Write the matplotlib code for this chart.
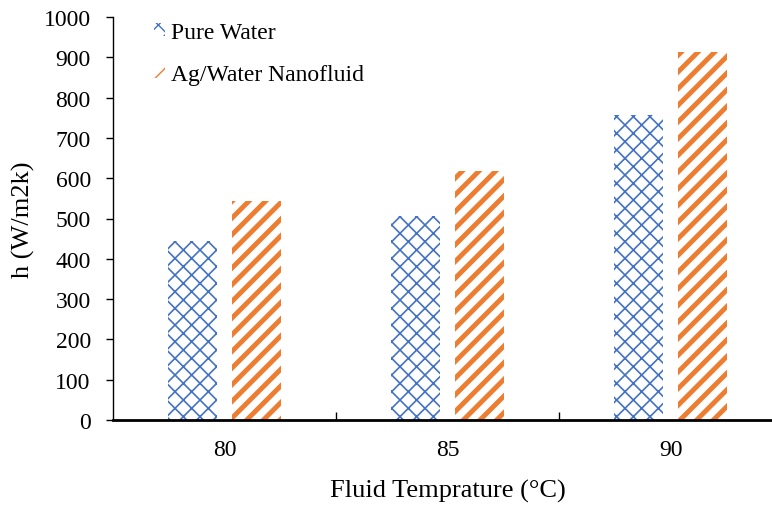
import matplotlib
matplotlib.use("Agg")
import matplotlib.pyplot as plt
import numpy as np

# data
temps = ["80", "85", "90"]
pure_water = [444, 507, 757]
ag_water = [543, 618, 912]

plt.rcParams['font.family'] = ['Liberation Serif', 'DejaVu Serif']
plt.rcParams['font.size'] = 17

fig = plt.figure(figsize=(7.72, 5.06), dpi=100)
ax = fig.add_axes([113 / 772, 1 - 421 / 506, 669 / 772, 403 / 506])

x = np.arange(len(temps))
w = 0.22
off = 0.143

with plt.rc_context({'hatch.linewidth': 1.2}):
    b1 = ax.bar(x - off, pure_water, w, color='white', edgecolor='#4472C4',
                hatch='xx', linewidth=0, label='Pure Water')
with plt.rc_context({'hatch.linewidth': 3.5}):
    b2 = ax.bar(x + off, ag_water, w, color='white', edgecolor='#ED7D31',
                hatch='//', linewidth=0, label='Ag/Water Nanofluid')

ax.set_xlim(-0.5, 2.5)
ax.set_ylim(0, 1000)
ax.set_yticks(np.arange(0, 1001, 100))
ax.set_xticks(x)
ax.set_xticklabels(temps)
ax.set_xticks([0.5, 1.5], minor=True)
ax.tick_params(axis='x', which='major', length=0, pad=14)
ax.tick_params(axis='x', which='minor', direction='in', length=6, width=1)
ax.tick_params(axis='y', direction='out', length=5, width=1, pad=11)

for s in ['top', 'right']:
    ax.spines[s].set_visible(False)
ax.spines['bottom'].set_linewidth(2)
ax.spines['left'].set_linewidth(1)

ax.set_ylabel('h (W/m2k)', fontsize=19, labelpad=6)
ax.set_xlabel('Fluid Temprature (°C)', fontsize=19, labelpad=13)

ax.legend(loc='upper left', bbox_to_anchor=(0.03, 1.04), frameon=False,
          handlelength=0.45, handleheight=0.45, handletextpad=0.25,
          labelspacing=0.9, fontsize=17)

fig.savefig('out.png', dpi=100)
